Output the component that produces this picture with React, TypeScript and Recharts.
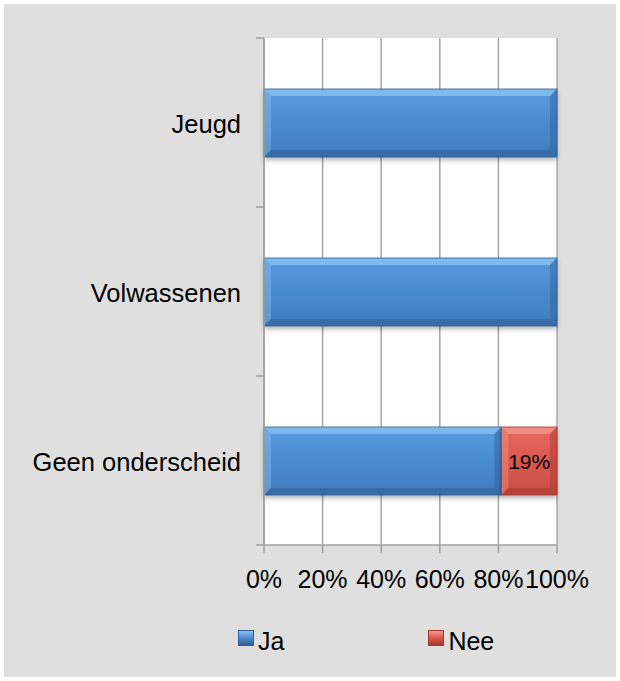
import React from "react";
import { BarChart, Bar, XAxis, YAxis, CartesianGrid, Legend, LabelList } from "recharts";

const categories = ["Jeugd", "Volwassenen", "Geen onderscheid"];
const jaValues = [100, 100, 81];
const neeValues = [0, 0, 19];
const xTicks = [0, 20, 40, 60, 80, 100];

const data = categories.map((name, i) => ({ name, ja: jaValues[i], nee: neeValues[i] }));

const W = 612, H = 673;
const M = { top: 34, right: 59, bottom: 72, left: 0 };
const YW = 260, XH = 60;
const FONT = "'Liberation Sans', Arial, sans-serif";
const plotH = H - M.top - M.bottom - XH;
const band = plotH / categories.length;

const BevelBar = (color: { base: string; light: string; dark: string; grad: string }) => (p: any) => {
  const { x, y, width, height } = p;
  if (!width || width <= 0) return null;
  const b = 7;
  return (
    <g>
      <rect x={x} y={y} width={width} height={height} fill={`url(#${color.grad})`} filter="url(#shadow)" />
      <polygon points={`${x},${y} ${x + width},${y} ${x + width - b},${y + b} ${x + b},${y + b}`} fill={color.light} opacity={0.75} />
      <polygon points={`${x},${y} ${x + b},${y + b} ${x + b},${y + height - b} ${x},${y + height}`} fill={color.light} opacity={0.4} />
      <polygon points={`${x + width},${y} ${x + width},${y + height} ${x + width - b},${y + height - b} ${x + width - b},${y + b}`} fill={color.dark} opacity={0.45} />
      <polygon points={`${x},${y + height} ${x + width},${y + height} ${x + width - b},${y + height - b} ${x + b},${y + height - b}`} fill={color.dark} opacity={0.55} />
      <rect x={x} y={y} width={width} height={height} fill="none" stroke={color.dark} strokeWidth={0.8} />
    </g>
  );
};

const blue = { base: "#4a8bd0", light: "#8cc4f4", dark: "#2f5f95", grad: "gBlue" };
const red = { base: "#d9564c", light: "#f29a90", dark: "#a8362f", grad: "gRed" };

const YTick = (props: any) => {
  const { y, payload, index } = props;
  const ax = YW;
  return (
    <g>
      <line x1={ax - 8} x2={ax} y1={y - band / 2} y2={y - band / 2} stroke="#a0a0a0" strokeWidth={1.5} />
      {index === categories.length - 1 && (
        <line x1={ax - 8} x2={ax} y1={y + band / 2} y2={y + band / 2} stroke="#a0a0a0" strokeWidth={1.5} />
      )}
      <text x={ax - 23} y={y + 1} textAnchor="end" dominantBaseline="central" fontSize={25.5} fontFamily={FONT} fill="#000">
        {payload.value}
      </text>
    </g>
  );
};

const NeeLabel = (props: any) => {
  const { x, y, width, height, value } = props;
  if (!value) return null;
  return (
    <text x={x + width / 2} y={y + height / 2} textAnchor="middle" dominantBaseline="central" fontSize={21} fontFamily={FONT} fill="#000">
      {value}%
    </text>
  );
};

const LegendContent = () => (
  <div style={{ display: "flex", fontFamily: FONT, fontSize: 25, color: "#000", paddingLeft: 234 }}>
    {[{ n: "Ja", c: blue }, { n: "Nee", c: red }].map((it, i) => (
      <div key={it.n} style={{ display: "flex", alignItems: "center", marginLeft: i ? 144 : 0 }}>
        <span style={{ width: 16, height: 16, marginRight: 4, marginTop: -7, boxSizing: "border-box", border: `1px solid ${it.c.dark}`, background: `linear-gradient(${it.c.light}, ${it.c.base} 50%, ${it.c.dark})` }} />
        <span>{it.n}</span>
      </div>
    ))}
  </div>
);

export default function App() {
  return (
    <div style={{ position: "absolute", left: 4, top: 4, width: W, height: H, background: "#dfdfdf" }}>
      <BarChart width={W} height={H} data={data} layout="vertical" margin={M} barSize={68}>
        <defs>
          <linearGradient id="gBlue" x1="0" y1="0" x2="0" y2="1">
            <stop offset="0" stopColor="#5b9ce0" />
            <stop offset="0.5" stopColor="#4a8bd0" />
            <stop offset="1" stopColor="#3f7bbd" />
          </linearGradient>
          <linearGradient id="gRed" x1="0" y1="0" x2="0" y2="1">
            <stop offset="0" stopColor="#e66a60" />
            <stop offset="0.5" stopColor="#da584e" />
            <stop offset="1" stopColor="#c94e45" />
          </linearGradient>
          <filter id="shadow" x="-5%" y="-10%" width="110%" height="130%">
            <feDropShadow dx="0" dy="3" stdDeviation="2.5" floodColor="#000" floodOpacity="0.3" />
          </filter>
        </defs>
        <CartesianGrid horizontal={false} stroke="#a6a6a6" strokeWidth={1.5} fill="#ffffff" strokeDasharray="" />
        <XAxis
          type="number"
          domain={[0, 100]}
          ticks={xTicks}
          tickFormatter={(v) => `${v}%`}
          height={XH}
          tickSize={8}
          tickMargin={17}
          interval={0}
          axisLine={{ stroke: "#a0a0a0", strokeWidth: 1.5 }}
          tickLine={{ stroke: "#a0a0a0", strokeWidth: 1.5 }}
          tick={{ fontSize: 25, fontFamily: FONT, fill: "#000" }}
        />
        <YAxis
          type="category"
          dataKey="name"
          width={YW}
          tickLine={false}
          axisLine={{ stroke: "#a0a0a0", strokeWidth: 1.5 }}
          tick={<YTick />}
          interval={0}
        />
        <Legend layout="vertical" align="center" verticalAlign="middle" content={<LegendContent />} wrapperStyle={{ top: 623, left: 0, width: W }} />
        <Bar dataKey="ja" name="Ja" stackId="a" shape={BevelBar(blue)} isAnimationActive={false} />
        <Bar dataKey="nee" name="Nee" stackId="a" shape={BevelBar(red)} isAnimationActive={false}>
          <LabelList dataKey="nee" content={<NeeLabel />} />
        </Bar>
      </BarChart>
    </div>
  );
}
